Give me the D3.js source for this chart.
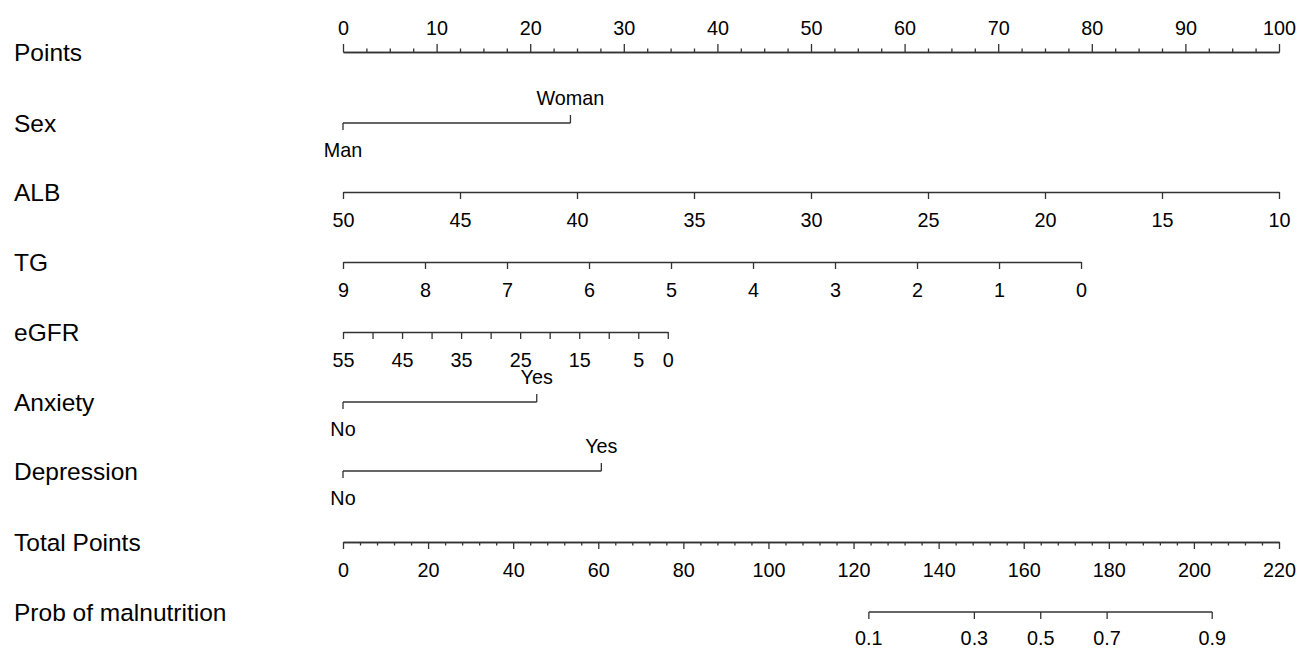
<!DOCTYPE html>
<html>
<head>
<meta charset="utf-8">
<script src="https://cdn.jsdelivr.net/npm/d3@7"></script>
<style>
  html, body { margin: 0; padding: 0; background: #fff; }
  svg { display: block; }
  text { font-family: "Liberation Sans", Arial, sans-serif; fill: #000; }
</style>
</head>
<body>
<svg id="chart" width="1297" height="648"></svg>
<script>
// ---------- data ----------
const rowLabels = ["Points", "Sex", "ALB", "TG", "eGFR", "Anxiety", "Depression", "Total Points", "Prob of malnutrition"];

const pointsTicks = [0, 10, 20, 30, 40, 50, 60, 70, 80, 90, 100];
const pointsMinor = [2.5, 5, 7.5, 12.5, 15, 17.5, 22.5, 25, 27.5, 32.5, 35, 37.5, 42.5, 45, 47.5, 52.5, 55, 57.5, 62.5, 65, 67.5, 72.5, 75, 77.5, 82.5, 85, 87.5, 92.5, 95, 97.5];

const sexLevels = ["Man", "Woman"];
const sexPoints = [0, 24.3];

const albValues = [50, 45, 40, 35, 30, 25, 20, 15, 10];
const albPoints = [0, 12.5, 25, 37.5, 50, 62.5, 75, 87.5, 100];

const tgValues = [9, 8, 7, 6, 5, 4, 3, 2, 1, 0];
const tgPoints = [0, 8.76, 17.52, 26.28, 35.04, 43.8, 52.57, 61.33, 70.09, 78.85];

const egfrValues = [55, 50, 45, 40, 35, 30, 25, 20, 15, 10, 5, 0];
const egfrPoints = [0, 3.15, 6.31, 9.46, 12.62, 15.77, 18.93, 22.08, 25.24, 28.39, 31.55, 34.7];
const egfrLabelled = [55, 45, 35, 25, 15, 5, 0];

const anxietyLevels = ["No", "Yes"];
const anxietyPoints = [0, 20.7];

const depressionLevels = ["No", "Yes"];
const depressionPoints = [0, 27.6];

const totalTicks = [0, 20, 40, 60, 80, 100, 120, 140, 160, 180, 200, 220];
const totalMinor = [4, 8, 12, 16, 24, 28, 32, 36, 44, 48, 52, 56, 64, 68, 72, 76, 84, 88, 92, 96, 104, 108, 112, 116, 124, 128, 132, 136, 144, 148, 152, 156, 164, 168, 172, 176, 184, 188, 192, 196, 204, 208, 212, 216];

const probValues = [0.1, 0.3, 0.5, 0.7, 0.9];
const probTotals = [123.6, 148.4, 164.0, 179.6, 204.3];

// ---------- layout ----------
const X0 = 343, X1 = 1279;
const rowY = [52, 123, 192, 262, 332, 402, 471, 542, 612];
const labelSize = 24.5, tickSize = 19.8;
const stroke = "#333", strokeW = 1.3;

const svg = d3.select("#chart");
const xPts = d3.scaleLinear().domain([0, 100]).range([X0, X1]);
const xTot = d3.scaleLinear().domain([0, 220]).range([X0, X1]);

// row labels
svg.append("g").selectAll("text").data(rowLabels).join("text")
  .attr("x", 14)
  .attr("y", (d, i) => rowY[i])
  .attr("dy", "0.36em")
  .attr("font-size", labelSize)
  .text(d => d);

function styleAxis(g) {
  g.selectAll("path, line").attr("stroke", stroke).attr("stroke-width", strokeW);
  g.selectAll("text").attr("font-size", tickSize).attr("font-family", "Liberation Sans, Arial, sans-serif").attr("fill", "#000");
}

// Points axis (top)
svg.append("g").attr("transform", `translate(0,${rowY[0]})`)
  .call(d3.axisTop(xPts).tickValues(pointsMinor).tickSize(3.5).tickSizeOuter(0).tickFormat(""))
  .call(styleAxis);
svg.append("g").attr("transform", `translate(0,${rowY[0]})`)
  .call(d3.axisTop(xPts).tickValues(pointsTicks).tickSize(8).tickPadding(9).tickSizeOuter(0))
  .call(styleAxis);

// continuous variable axes
function contAxis(row, values, points, labelled) {
  const s = d3.scaleLinear()
    .domain([values[0], values[values.length - 1]])
    .range([xPts(points[0]), xPts(points[points.length - 1])]);
  const ax = d3.axisBottom(s).tickValues(values).tickSize(7).tickPadding(14).tickSizeOuter(0)
    .tickFormat(d => (labelled && !labelled.includes(d)) ? "" : String(d));
  svg.append("g").attr("transform", `translate(0,${rowY[row]})`).call(ax).call(styleAxis);
}
contAxis(2, albValues, albPoints);
contAxis(3, tgValues, tgPoints);
contAxis(4, egfrValues, egfrPoints, egfrLabelled);

// categorical variable axes
function catAxis(row, levels, points) {
  const y = rowY[row];
  const g = svg.append("g");
  g.append("line")
    .attr("x1", xPts(points[0])).attr("x2", xPts(points[points.length - 1]))
    .attr("y1", y).attr("y2", y)
    .attr("stroke", stroke).attr("stroke-width", strokeW);
  levels.forEach((lv, i) => {
    const x = xPts(points[i]);
    const up = i % 2 === 1;
    g.append("line")
      .attr("x1", x).attr("x2", x)
      .attr("y1", y).attr("y2", up ? y - 8 : y + 7)
      .attr("stroke", stroke).attr("stroke-width", strokeW);
    g.append("text")
      .attr("x", x)
      .attr("y", up ? y - 18 : y + 20)
      .attr("dy", up ? "0em" : "0.71em")
      .attr("text-anchor", "middle")
      .attr("font-size", tickSize)
      .text(lv);
  });
}
catAxis(1, sexLevels, sexPoints);
catAxis(5, anxietyLevels, anxietyPoints);
catAxis(6, depressionLevels, depressionPoints);

// Total points axis
svg.append("g").attr("transform", `translate(0,${rowY[7]})`)
  .call(d3.axisBottom(xTot).tickValues(totalMinor).tickSize(3.5).tickSizeOuter(0).tickFormat(""))
  .call(styleAxis);
svg.append("g").attr("transform", `translate(0,${rowY[7]})`)
  .call(d3.axisBottom(xTot).tickValues(totalTicks).tickSize(7).tickPadding(14).tickSizeOuter(0))
  .call(styleAxis);

// Probability axis
const xProb = d3.scaleOrdinal().domain(probValues).range(probTotals.map(t => xTot(t)));
const probG = svg.append("g").attr("transform", `translate(0,${rowY[8]})`);
probG.append("line")
  .attr("x1", xTot(probTotals[0])).attr("x2", xTot(probTotals[probTotals.length - 1]))
  .attr("y1", 0).attr("y2", 0)
  .attr("stroke", stroke).attr("stroke-width", strokeW);
probG.selectAll("g.tick").data(probValues).join("g")
  .attr("class", "tick")
  .attr("transform", d => `translate(${xProb(d)},0)`)
  .each(function (d) {
    const t = d3.select(this);
    t.append("line").attr("y2", 7).attr("stroke", stroke).attr("stroke-width", strokeW);
    t.append("text").attr("y", 19).attr("dy", "0.71em").attr("text-anchor", "middle")
      .attr("font-size", tickSize).text(d3.format(".1f")(d));
  });
</script>
</body>
</html>
